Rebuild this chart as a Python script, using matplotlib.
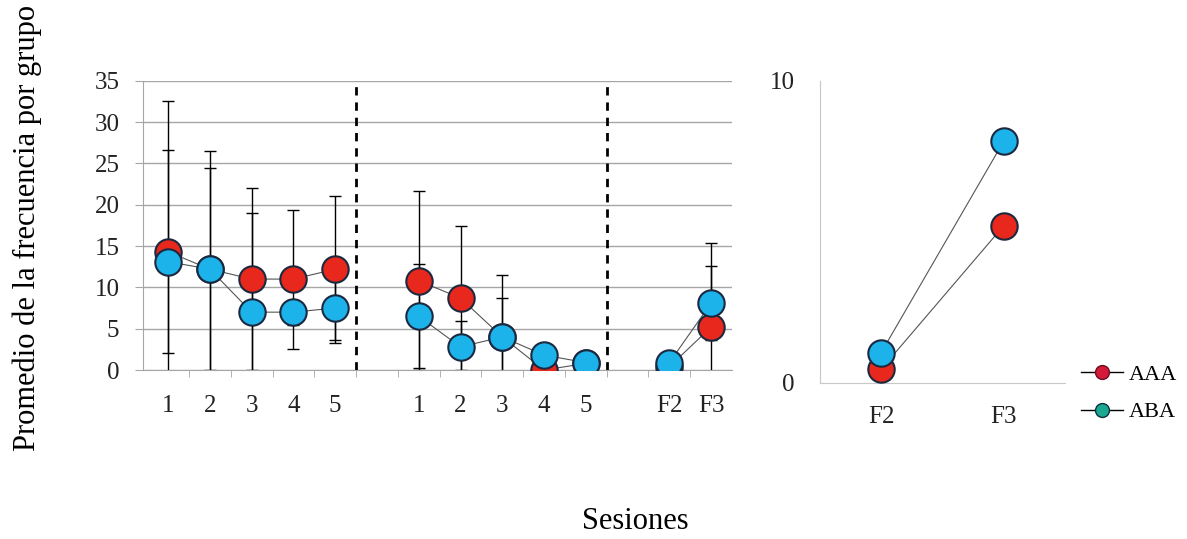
import numpy as np
import matplotlib.pyplot as plt
from matplotlib.lines import Line2D

plt.rcParams['font.family'] = ['Liberation Serif', 'DejaVu Serif']

# session categories (empty slots separate the phases)
categories = ['1', '2', '3', '4', '5', '', '1', '2', '3', '4', '5', '', 'F2', 'F3']
nan = np.nan
aaa = [14.3, 12.2, 11.0, 11.0, 12.2, nan, 10.8, 8.7, 4.0, 0.0, 0.8, nan, 0.4, 5.2]
aba = [13.1, 12.2, 7.0, 7.0, 7.5, nan, 6.5, 2.8, 4.0, 1.8, 0.9, nan, 0.9, 8.1]
aaa_sd = [12.3, 12.2, 11.0, 8.4, 8.9, nan, 10.8, 8.7, 7.5, 0.0, 0.5, nan, 0.3, 10.2]
aba_sd = [19.5, 14.3, 12.0, 1.5, 3.9, nan, 6.3, 3.1, 4.7, 1.0, 0.5, nan, 0.5, 4.5]

# zoomed panel
f_labels = ['F2', 'F3']
aaa_f = [0.45, 5.2]
aba_f = [1.0, 8.0]

red = '#e8281c'
blue = '#1cb2ea'
edge = '#1b2940'
grey = '#a6a6a6'

fig = plt.figure(figsize=(11.87, 5.39), dpi=100)

# ---- main panel
ax = fig.add_axes([0.1205, 0.3135, 0.4962, 0.5368])
x = np.arange(len(categories))
for vals, sd, col, z in [(aaa, aaa_sd, red, 4), (aba, aba_sd, blue, 5)]:
    ax.errorbar(x, vals, yerr=sd, fmt='none', ecolor='black', elinewidth=1,
                capsize=4, capthick=1, zorder=2)
    ax.plot(x, vals, '-', color='#555555', lw=0.8, zorder=3)
    ax.plot(x, vals, 'o', ms=19, mfc=col, mec=edge, mew=1.5, zorder=z)

for xv in [4.5, 10.5]:
    ax.axvline(xv, color='black', lw=2, ls=(0, (3, 2.5)), zorder=1)

ax.set_ylim(0, 35)
ax.set_xlim(-0.6, 13.5)
ax.set_yticks(np.arange(0, 36, 5))
ax.yaxis.grid(True, color=grey, lw=1)
ax.set_axisbelow(True)
ax.set_xticks(x)
ax.set_xticklabels(categories)
ax.set_xticks(np.arange(0.5, 13.5, 1), minor=True)
ax.tick_params(axis='x', which='major', length=0, pad=18, labelsize=18,
               labelcolor='#222222')
ax.tick_params(axis='x', which='minor', length=5, color=grey, direction='out')
ax.tick_params(axis='y', length=6, color=grey, pad=11, labelsize=18,
               labelcolor='#222222')
for s in ['top', 'right']:
    ax.spines[s].set_visible(False)
for s in ['left', 'bottom']:
    ax.spines[s].set_color(grey)

# ---- right panel
ax2 = fig.add_axes([0.6908, 0.29, 0.2064, 0.560])
x2 = np.arange(len(f_labels))
ax2.plot(x2, aaa_f, '-', color='#555555', lw=0.8, zorder=3)
ax2.plot(x2, aaa_f, 'o', ms=19, mfc=red, mec=edge, mew=1.5, zorder=4)
ax2.plot(x2, aba_f, '-', color='#555555', lw=0.8, zorder=3)
ax2.plot(x2, aba_f, 'o', ms=19, mfc=blue, mec=edge, mew=1.5, zorder=5)
ax2.set_xlim(-0.5, 1.5)
ax2.set_ylim(0, 10)
ax2.set_yticks([0, 10])
ax2.set_xticks(x2)
ax2.set_xticklabels(f_labels)
ax2.tick_params(axis='x', length=0, pad=17, labelsize=18, labelcolor='#222222')
ax2.tick_params(axis='y', length=0, pad=18, labelsize=18, labelcolor='#222222')
for s in ['top', 'right']:
    ax2.spines[s].set_visible(False)
for s in ['left', 'bottom']:
    ax2.spines[s].set_color('#c8c8c8')
ax2.patch.set_alpha(0)

# legend
handles = [
    Line2D([], [], color='black', lw=1, marker='o', ms=10, mfc='#d4193a', mec='#6a1020', label='AAA'),
    Line2D([], [], color='black', lw=1, marker='o', ms=10, mfc='#1aa890', mec='#103040', label='ABA'),
]
fig.legend(handles=handles, loc='upper left', bbox_to_anchor=(0.903, 0.34),
           frameon=False, fontsize=16, handlelength=1.9, handletextpad=0.25,
           labelspacing=0.75, borderaxespad=0)

fig.text(0.023, 0.577, 'Promedio de la frecuencia por grupo', rotation=90,
         ha='center', va='center', fontsize=22)
fig.text(0.535, 0.033, 'Sesiones', ha='center', va='center', fontsize=22)

fig.savefig('out.png', dpi=100)
